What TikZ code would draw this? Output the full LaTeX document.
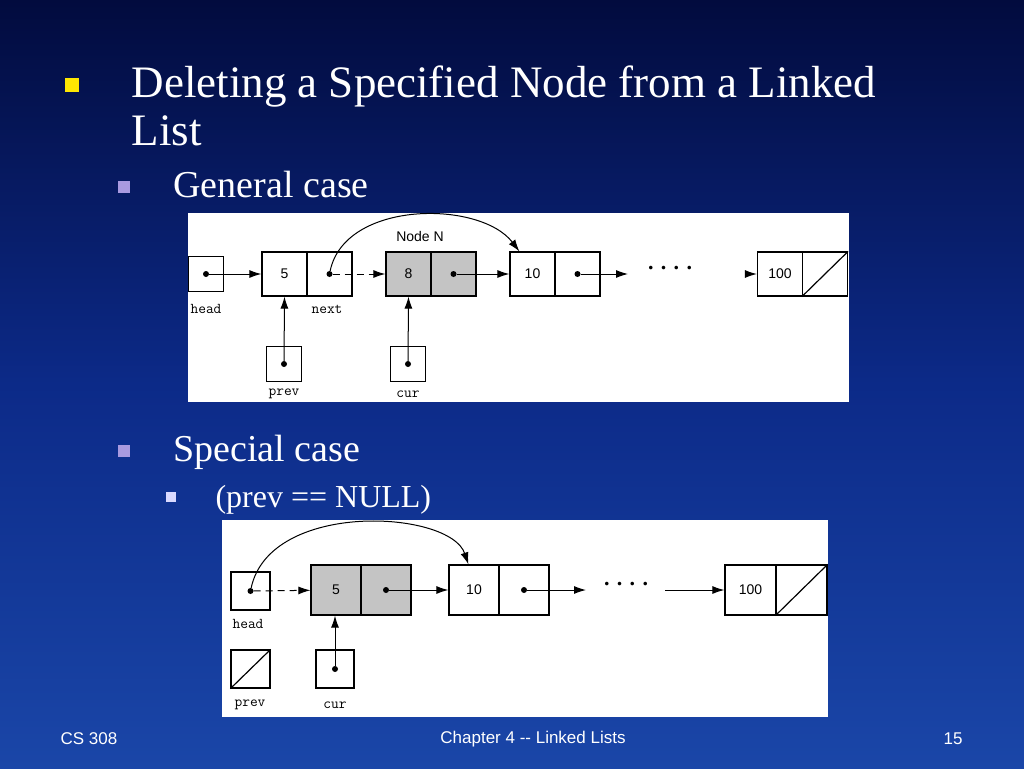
\documentclass[tikz,border=0pt]{standalone}
\usepackage{fontspec}
\setmainfont{Liberation Serif}
\newfontfamily\arialfont{Liberation Sans}
\usetikzlibrary{arrows.meta}
\definecolor{slidetop}{HTML}{020B3E}
\definecolor{slidemid}{HTML}{0C2A88}
\definecolor{slidebot}{HTML}{1A46A8}
\definecolor{cellgray}{HTML}{C4C4C4}
\definecolor{subbul}{HTML}{A99AE0}
\tikzset{
	cell/.style={draw,line width=1.2pt,minimum width=45pt,minimum height=44pt,inner sep=0pt,font=\arialfont\fontsize{14}{14}\selectfont},
	ptr/.style={draw,line width=1.2pt,minimum width=35pt,minimum height=35pt,inner sep=0pt},
	lbl/.style={font=\ttfamily\fontsize{15}{15}\selectfont},
	link/.style={-{Latex[length=12pt,width=8pt]},line width=1pt},
	dashlink/.style={link,dash pattern=on 7pt off 5pt},
	pdot/.style={circle,fill,inner sep=0pt,minimum size=6pt},
}
\begin{document}
\begin{tikzpicture}[x=1pt,y=-1pt]
	\useasboundingbox (0,0) rectangle (1024,768);
	\shade[top color=slidetop,bottom color=slidebot,middle color=slidemid] (0,0) rectangle (1024,768);
	% title and bullets
	\fill[yellow!90!orange] (65,78) rectangle (79,92);
	\node[anchor=base west,text=white,font=\fontsize{45}{45}\selectfont] (title1) at (128,97) {Deleting a Specified Node from a Linked};
	\node[anchor=base west,text=white,font=\fontsize{45}{45}\selectfont] (title2) at (128,145) {List};
	\fill[subbul] (118,181) rectangle (130,193);
	\node[anchor=base west,text=white,font=\fontsize{38}{38}\selectfont] (gen) at (170,197) {General case};
	\fill[subbul] (118,445) rectangle (130,457);
	\node[anchor=base west,text=white,font=\fontsize{38}{38}\selectfont] (spec) at (170,461) {Special case};
	\fill[white!85!blue] (166,492) rectangle (176,502);
	\node[anchor=base west,text=white,font=\fontsize{32}{32}\selectfont] (nul) at (212,507) {(prev == NULL)};
	% footer
	\node[text=white,font=\arialfont\fontsize{17}{17}\selectfont] (ftl) at (89,739) {CS 308};
	\node[text=white,font=\arialfont\fontsize{17}{17}\selectfont] (ftc) at (533,739) {Chapter 4 -- Linked Lists};
	\node[text=white,font=\arialfont\fontsize{17}{17}\selectfont] (ftr) at (953,739) {15};

	% general case
	\fill[white] (188,213) rectangle (849,402);
	\node[ptr] (head) at (206,274) {};
	\node[cell] (a5) at (284.5,274) {5};
	\node[cell] (a5n) at (329.5,274) {};
	\node[cell,fill=cellgray] (a8) at (408.5,274) {8};
	\node[cell,fill=cellgray] (a8n) at (453.5,274) {};
	\node[cell] (a10) at (532.5,274) {10};
	\node[cell] (a10n) at (577.5,274) {};
	\node[cell] (a100) at (780,274) {100};
	\node[cell] (a100n) at (825,274) {};
	\draw[line width=1.2pt] (a100n.south west) -- (a100n.north east);
	\node[ptr] (prev) at (284,364) {};
	\node[ptr] (cur) at (408,364) {};
	\node[lbl] (lhead) at (206,309) {head};
	\node[lbl] (lnext) at (327,309) {next};
	\node[lbl] (lprev) at (284,394) {prev};
	\node[lbl] (lcur) at (408,394) {cur};
	\node[font=\arialfont\fontsize{14}{14}\selectfont] (nodeN) at (420,236) {Node N};
	\node[font=\bfseries\fontsize{22}{22}\selectfont] (dots) at (670,268) {. . . .};
	\coordinate (gap) at (628,274);
	\coordinate (gapr) at (745,274);
	\node[pdot] (d1) at (head.center) {};
	\node[pdot] (d2) at (a5n.center) {};
	\node[pdot] (d3) at (a8n.center) {};
	\node[pdot] (d4) at (a10n.center) {};
	\node[pdot] (d5) at (prev.center) {};
	\node[pdot] (d6) at (cur.center) {};
	\draw[link] (d1) -- (a5);
	\draw[dashlink] (d2) -- (a8);
	\draw[link] (d3) -- (a10);
	\draw[link] (d4) -- (gap);
	\draw[link] (gapr) -- (a100);
	\draw[link] (d5) -- (a5.south);
	\draw[link] (d6) -- (a8.south);
	\draw[link] (d2) .. controls (345,200) and (480,200) .. ([xshift=10pt]a10.north west);

	% special case
	\fill[white] (222,520) rectangle (828,717);
	\node[ptr,minimum width=39pt,minimum height=38pt] (headb) at (250.5,591) {};
	\fill[cellgray] (311,565) rectangle (411,615);
	\node[cell,minimum width=50pt,minimum height=50pt] (b5) at (336,590) {5};
	\node[cell,minimum width=50pt,minimum height=50pt] (b5n) at (386,590) {};
	\node[cell,minimum width=50pt,minimum height=50pt] (b10) at (474,590) {10};
	\node[cell,minimum width=50pt,minimum height=50pt] (b10n) at (524,590) {};
	\node[cell,minimum width=51pt,minimum height=50pt] (b100) at (750.5,590) {100};
	\node[cell,minimum width=51pt,minimum height=50pt] (b100n) at (801.5,590) {};
	\draw[line width=1.2pt] (b100n.south west) -- (b100n.north east);
	\node[ptr,minimum width=39pt,minimum height=38pt] (prevb) at (250.5,669) {};
	\draw[line width=1.2pt] (prevb.south west) -- (prevb.north east);
	\node[ptr,minimum width=38pt,minimum height=38pt] (curb) at (335,669) {};
	\node[lbl] (lheadb) at (248,624) {head};
	\node[lbl] (lprevb) at (250,705) {prev};
	\node[lbl] (lcurb) at (335,705) {cur};
	\node[font=\bfseries\fontsize{22}{22}\selectfont] (dotsb) at (626,584) {. . . .};
	\coordinate (gapb) at (586,590);
	\coordinate (gapbr) at (665,590);
	\node[pdot] (e1) at (headb.center) {};
	\node[pdot] (e2) at (b5n.center) {};
	\node[pdot] (e3) at (b10n.center) {};
	\node[pdot] (e4) at (curb.center) {};
	\draw[dashlink] (e1) -- (b5);
	\draw[link] (e2) -- (b10);
	\draw[link] (e3) -- (gapb);
	\draw[link] (gapbr) -- (b100);
	\draw[link] (e4) -- (b5.south -| e4);
	\draw[link] (e1) .. controls (270,500) and (450,510) .. ([xshift=20pt]b10.north west);
\end{tikzpicture}
\end{document}
